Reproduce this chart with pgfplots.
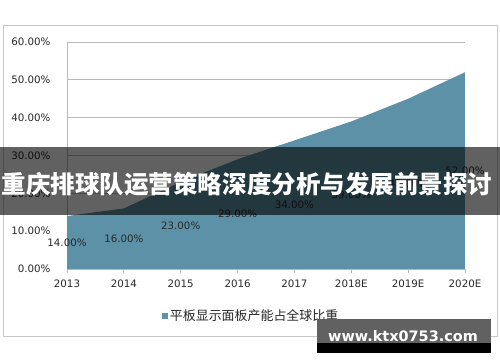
\documentclass[border=0pt]{standalone}
\usepackage{fontspec}
\setmainfont{DejaVu Sans}
\newfontfamily\cjk{Noto Sans CJK SC}
\usepackage{pgfplots}
\pgfplotsset{compat=1.18}
\definecolor{areablue}{RGB}{93,145,167}
\definecolor{gridgray}{RGB}{185,185,185}
\definecolor{bordergray}{RGB}{200,200,200}
\definecolor{txt}{RGB}{40,40,40}
\begin{document}
\begin{tikzpicture}
\useasboundingbox (0bp,0bp) rectangle (500bp,362bp);
\fill[white] (0bp,0bp) rectangle (500bp,362bp);
\draw[bordergray, line width=1bp] (3bp,25bp) rectangle (497bp,336bp);
\begin{axis}[
  at={(67bp,93bp)}, anchor=south west,
  scale only axis, width=398bp, height=227bp,
  xmin=0, xmax=7, ymin=0, ymax=60,
  xtick={0,...,7},
  xticklabels={2013,2014,2015,2016,2017,2018E,2019E,2020E},
  ytick={0,10,...,60},
  yticklabel={\pgfmathprintnumber[fixed,fixed zerofill,precision=2]{\tick}\%},
  /pgf/number format/assume math mode=true,
  ymajorgrids, grid style={gridgray, line width=0.8bp},
  axis x line*=bottom, axis y line*=left,
  axis line style={gridgray, line width=0.8bp, -},
  x tick style={gridgray, line width=0.8bp},
  y tick style={draw=none},
  tick align=outside, major tick length=4bp,
  ticklabel style={font=\fontsize{10.3}{12}\selectfont, text=txt},
  yticklabel style={xshift=-9bp},
  xticklabel style={yshift=-3bp},
  clip=false,
  legend style={at={(axis description cs:0.238,-0.207)}, anchor=west, draw=none, fill=none,
    font=\cjk\fontsize{13}{15}\selectfont, text=txt, inner sep=0pt},
  legend image code/.code={\fill[areablue] (-3bp,-3bp) rectangle (3bp,3bp);},
]
\addplot[fill=areablue, draw=none] coordinates {
  (0,14) (1,16) (2,23) (3,29) (4,34) (5,39) (6,45) (7,52)
} \closedcycle;
\addlegendentry{平板显示面板产能占全球比重}
\addplot[draw=none, mark=none, forget plot,
  point meta=explicit symbolic,
  nodes near coords,
  every node near coord/.append style={anchor=center, font=\fontsize{10.3}{12}\selectfont, text=txt},
] coordinates {
  (0,7) [14.00\%]
  (1,8) [16.00\%]
  (2,11.5) [23.00\%]
  (3,14.5) [29.00\%]
  (4,17) [34.00\%]
  (5,19.5) [39.00\%]
  (6,22.5) [45.00\%]
  (7,26) [52.00\%]
};
\end{axis}
% title banner
\fill[black, opacity=0.62] (0bp,147bp) rectangle (500bp,215bp);
\node[text=white, font=\cjk\bfseries\fontsize{24.6}{28}\selectfont, anchor=center] at (247bp,178bp) {重庆排球队运营策略深度分析与发展前景探讨};
% watermark
\fill[black!62] (317bp,19bp) rectangle (491bp,43bp);
\fill[black] (317bp,9bp) rectangle (491bp,19bp);
\node[text=white, font=\bfseries\fontsize{14.5}{16}\selectfont, anchor=center] at (403bp,26bp) {www.ktx0753.com};
\end{tikzpicture}
\end{document}
